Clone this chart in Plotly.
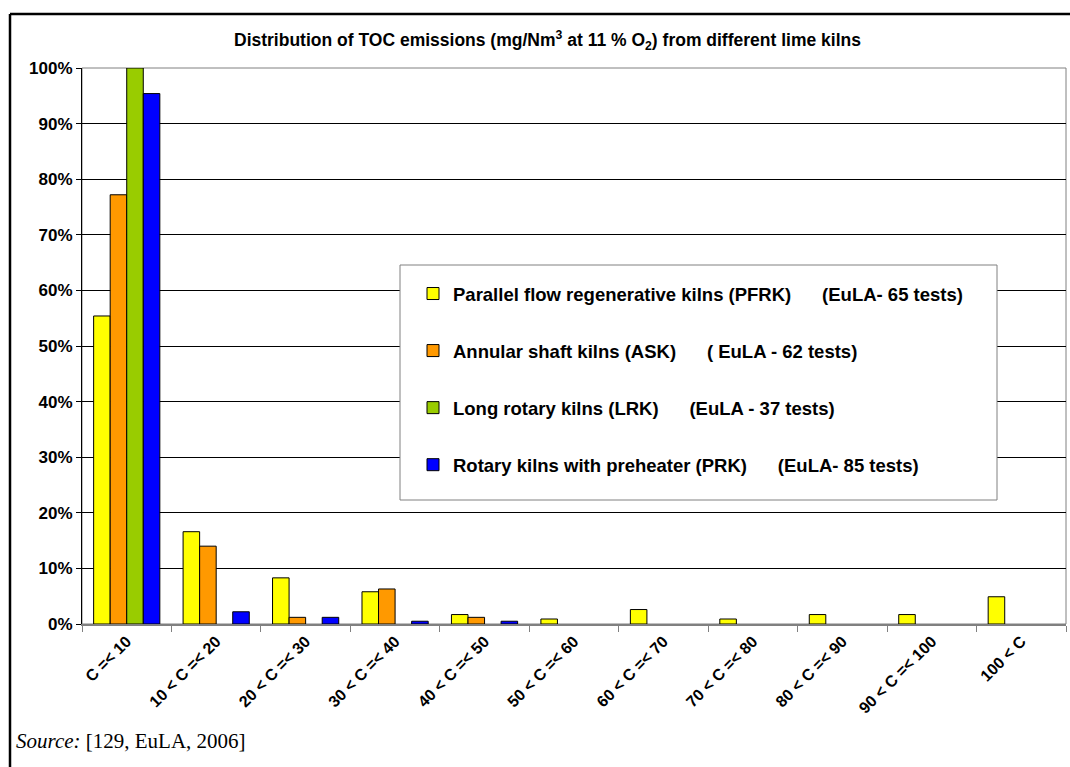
import plotly.graph_objects as go

categories = ["C =< 10", "10 < C =< 20", "20 < C =< 30", "30 < C =< 40", "40 < C =< 50",
              "50 < C =< 60", "60 < C =< 70", "70 < C =< 80", "80 < C =< 90", "90 < C =< 100", "100 < C"]

pfrk = [55.4, 16.6, 8.3, 5.8, 1.7, 0.9, 2.6, 0.9, 1.7, 1.7, 4.9]
ask = [77.2, 14.0, 1.2, 6.3, 1.2, None, None, None, None, None, None]
lrk = [100.0, None, None, None, None, None, None, None, None, None, None]
prk = [95.4, 2.2, 1.2, 0.5, 0.5, None, None, None, None, None, None]

GAP = "\u00a0" * 6
names = [
    "Parallel flow regenerative kilns (PFRK)" + GAP + "(EuLA- 65 tests)",
    "Annular shaft kilns (ASK)" + GAP + "( EuLA - 62 tests)",
    "Long rotary kilns (LRK)" + GAP + "(EuLA - 37 tests)",
    "Rotary kilns with preheater (PRK)" + GAP + "(EuLA- 85 tests)",
]
colors = ["#FFFF00", "#FF9900", "#99CC00", "#0000FF"]
series = [pfrk, ask, lrk, prk]

y_ticks = [0, 10, 20, 30, 40, 50, 60, 70, 80, 90, 100]
y_tick_text = [f"{v}%" for v in y_ticks]

W, H = 1070, 767
L, R, T, B = 82, 1066, 68, 624

def px(x):
    return (x - L) / (R - L)

def py(y):
    return (B - y) / (B - T)

FONT = "Liberation Sans, Arial, sans-serif"

fig = go.Figure()
for i, (name, vals, col) in enumerate(zip(names, series, colors)):
    fig.add_trace(go.Bar(
        x=categories, y=vals, name=name,
        marker=dict(color=col, line=dict(color="#000000", width=1)),
        legendgroup=f"g{i}",
    ))

shapes = [
    dict(type="rect", xref="paper", yref="paper", x0=0, x1=1, y0=0, y1=1,
         line=dict(color="#808080", width=1), layer="below"),
    dict(type="rect", xref="paper", yref="paper", x0=px(400), x1=px(997), y0=py(500), y1=py(265),
         line=dict(color="#808080", width=1), fillcolor="#FFFFFF", layer="above"),
    dict(type="line", xref="paper", yref="paper", x0=px(10), x1=px(1072), y0=py(14), y1=py(14),
         line=dict(color="#000000", width=2.5)),
    dict(type="line", xref="paper", yref="paper", x0=px(10), x1=px(10), y0=py(14), y1=py(770),
         line=dict(color="#000000", width=2.5)),
]

annotations = [
    dict(text="<b>Distribution of TOC emissions (mg/Nm<sup>3</sup> at 11 % O<sub>2</sub>) from different lime kilns</b>",
         xref="paper", yref="paper", x=px(547), y=py(40), xanchor="center", yanchor="middle",
         showarrow=False, font=dict(family=FONT, size=17.5, color="#000000")),
    dict(text="<i>Source:</i> [129, EuLA, 2006]",
         xref="paper", yref="paper", x=px(14), y=py(741), xanchor="left", yanchor="middle",
         showarrow=False, font=dict(family="Liberation Serif, Times New Roman, serif", size=21, color="#000000")),
]

fig.update_layout(
    width=W, height=H,
    margin=dict(l=L, r=W - R, t=T, b=H - B),
    paper_bgcolor="#FFFFFF", plot_bgcolor="#FFFFFF",
    barmode="group", bargap=0.26, bargroupgap=0,
    font=dict(family=FONT, color="#000000"),
    showlegend=True,
    legend=dict(
        x=px(413), y=py(275), xanchor="left", yanchor="top",
        bgcolor="rgba(0,0,0,0)", borderwidth=0,
        font=dict(family=FONT, size=18.5, color="#000000", weight="bold"),
        tracegroupgap=30, traceorder="grouped",
    ),
    shapes=shapes,
    annotations=annotations,
)

fig.update_xaxes(
    type="category", tickangle=-45,
    tickfont=dict(family=FONT, size=16, color="#000000", weight="bold"),
    showline=True, linecolor="#808080", linewidth=1.5,
    ticks="outside", tickson="boundaries", ticklen=6, tickcolor="#808080",
    showgrid=False, zeroline=False,
)
fig.update_yaxes(
    range=[0, 100], tickmode="array", tickvals=y_ticks, ticktext=y_tick_text,
    tickfont=dict(family=FONT, size=17, color="#000000", weight="bold"),
    showline=True, linecolor="#000000", linewidth=1,
    ticks="outside", ticklen=5, tickcolor="#000000",
    showgrid=True, gridcolor="#000000", gridwidth=1, zeroline=False,
)

fig.write_html("out.html", config={"displayModeBar": False},
               post_script="document.body.style.margin='0';")
